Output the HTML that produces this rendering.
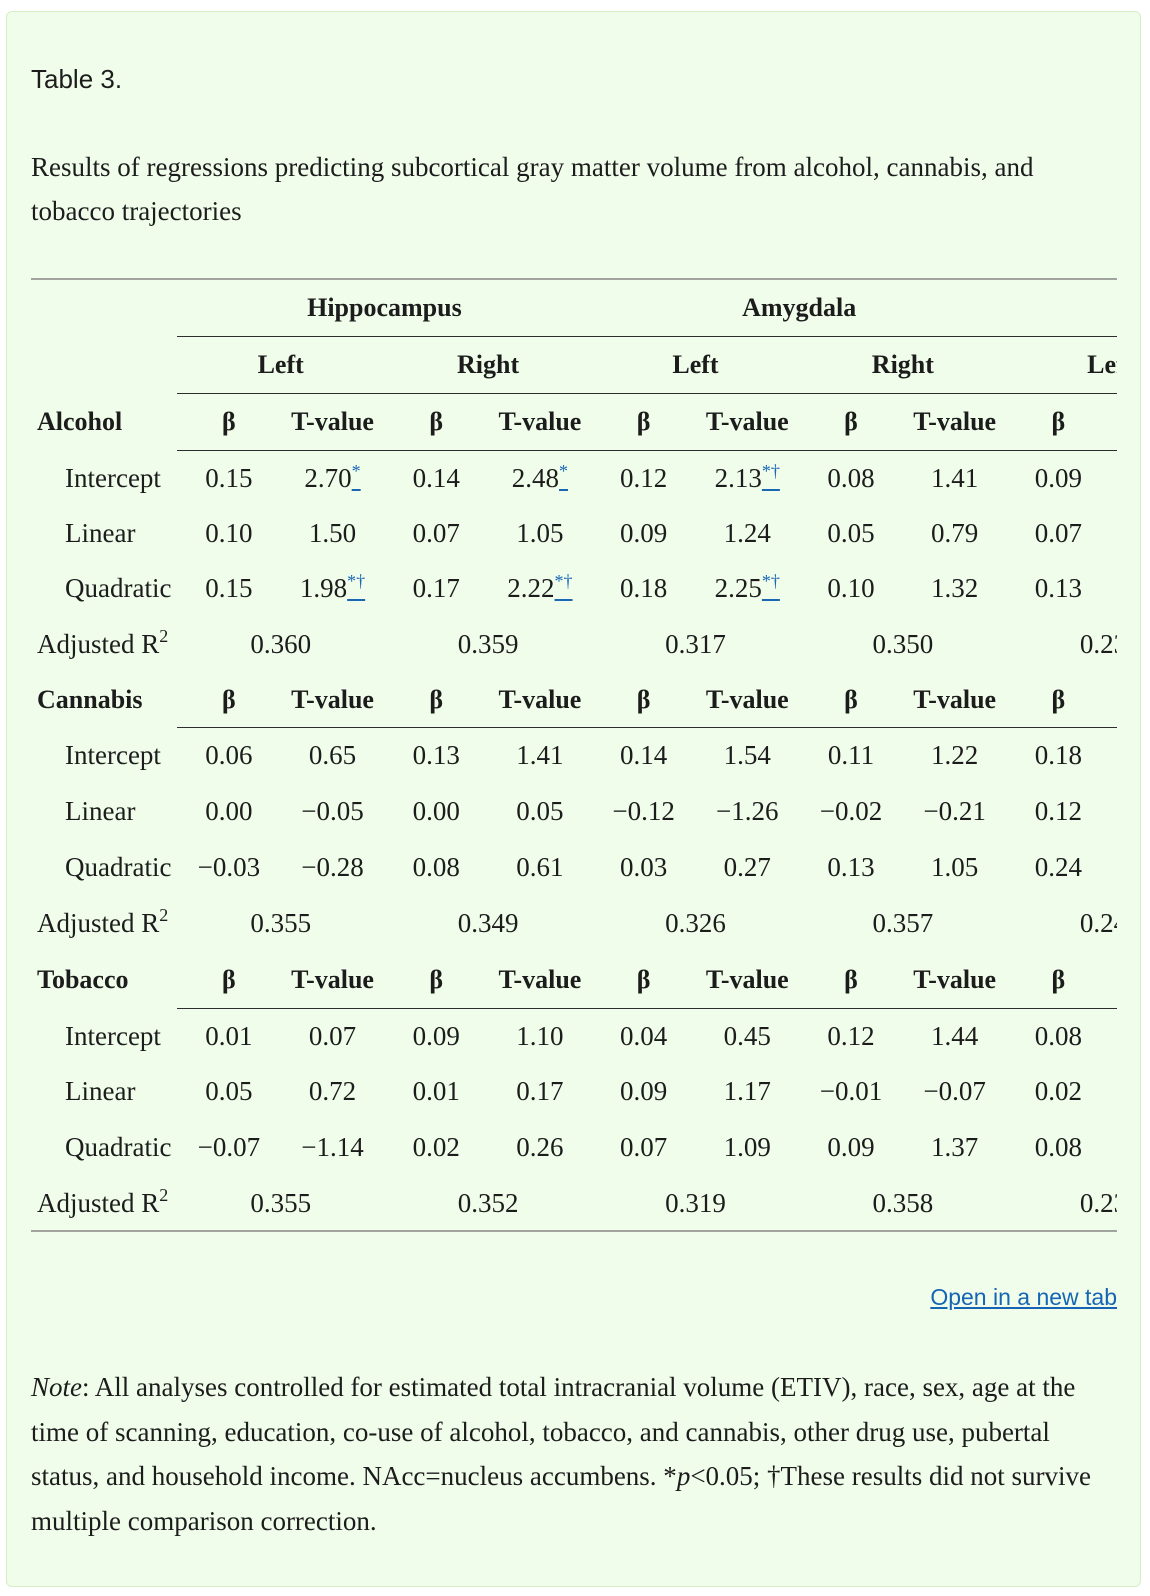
<!DOCTYPE html>
<html>
<head>
<meta charset="utf-8">
<style>
  html, body { margin:0; padding:0; }
  body { width:1150px; height:1596px; background:#ffffff; position:relative; overflow:hidden;
         font-family:"Liberation Serif", "DejaVu Serif", serif; color:#1c1c1c; }
  .card { position:absolute; left:6px; top:11px; width:1133px; height:1574px;
          background:#f1fdeb; border:1px solid #d5eec3; border-radius:6px; }
  .title { position:absolute; left:31px; top:64px; font-family:"Liberation Sans", sans-serif;
           font-size:26px; line-height:30px; white-space:nowrap; color:#1c1c1c; }
  .caption { position:absolute; left:31px; top:145px; font-size:27px; line-height:44px; white-space:nowrap; color:#1c1c1c; }
  .rule { position:absolute; left:177px; width:940px; height:1.5px; background:#2e2e2e; }
  .rule.outer { left:31px; width:1086px; height:2px; background:#a2a4a0; }
  .row { position:absolute; left:31px; width:1086px; display:flex; overflow:hidden; white-space:nowrap;
         font-size:27px; }
  .lab { flex:0 0 146px; padding-left:6px; box-sizing:border-box; text-align:left; }
  .ind { padding-left:34px; }
  .b { font-weight:bold; font-size:26px; }
  .c { flex:0 0 103.7px; text-align:center; }
  .c2 { flex:0 0 207.4px; text-align:center; }
  .c4 { flex:0 0 414.8px; text-align:center; }
  a.fn { color:#1a67b4; text-decoration:underline; }
  a.fn sup { font-size:18px; line-height:0; vertical-align:10px; }
  sup.r { font-size:18px; line-height:0; vertical-align:11px; }
  .link { position:absolute; right:33px; top:1284px; font-family:"Liberation Sans", sans-serif; font-size:23px;
          line-height:26px; color:#1565b4; text-decoration:underline; white-space:nowrap; }
  .note { position:absolute; left:31px; top:1365px; font-size:27px; line-height:44.5px; white-space:nowrap; color:#1c1c1c; }
</style>
</head>
<body>
<div class="card"></div>

<div class="title">Table 3.</div>

<div class="caption">Results of regressions predicting subcortical gray matter volume from alcohol, cannabis, and<br>tobacco trajectories</div>

<!-- rules -->
<div class="rule outer" style="top:278px"></div>
<div class="rule" style="top:335.5px"></div>
<div class="rule" style="top:392.5px"></div>
<div class="rule" style="top:449.5px"></div>
<div class="rule" style="top:726.5px"></div>
<div class="rule" style="top:1007.5px"></div>
<div class="rule outer" style="top:1230px"></div>

<!-- header row 1 -->
<div class="row b" style="top:279px;height:57px;line-height:57px">
  <div class="lab"></div>
  <div class="c4">Hippocampus</div>
  <div class="c4">Amygdala</div>
  <div class="c4">NAcc</div>
</div>
<!-- header row 2 -->
<div class="row b" style="top:336px;height:57px;line-height:57px">
  <div class="lab"></div>
  <div class="c2">Left</div><div class="c2">Right</div>
  <div class="c2">Left</div><div class="c2">Right</div>
  <div class="c2">Left</div>
</div>
<!-- header row 3 -->
<div class="row b" style="top:393px;height:57px;line-height:57px">
  <div class="lab">Alcohol</div>
  <div class="c">β</div><div class="c">T-value</div>
  <div class="c">β</div><div class="c">T-value</div>
  <div class="c">β</div><div class="c">T-value</div>
  <div class="c">β</div><div class="c">T-value</div>
  <div class="c">β</div><div class="c">T-value</div>
</div>

<!-- Alcohol -->
<div class="row" style="top:450px;height:56px;line-height:56px">
  <div class="lab ind">Intercept</div>
  <div class="c">0.15</div><div class="c">2.70<a class="fn"><sup>*</sup></a></div>
  <div class="c">0.14</div><div class="c">2.48<a class="fn"><sup>*</sup></a></div>
  <div class="c">0.12</div><div class="c">2.13<a class="fn"><sup>*†</sup></a></div>
  <div class="c">0.08</div><div class="c">1.41</div>
  <div class="c">0.09</div><div class="c">1.52</div>
</div>
<div class="row" style="top:506px;height:55px;line-height:55px">
  <div class="lab ind">Linear</div>
  <div class="c">0.10</div><div class="c">1.50</div>
  <div class="c">0.07</div><div class="c">1.05</div>
  <div class="c">0.09</div><div class="c">1.24</div>
  <div class="c">0.05</div><div class="c">0.79</div>
  <div class="c">0.07</div><div class="c">1.04</div>
</div>
<div class="row" style="top:561px;height:55px;line-height:55px">
  <div class="lab ind">Quadratic</div>
  <div class="c">0.15</div><div class="c">1.98<a class="fn"><sup>*†</sup></a></div>
  <div class="c">0.17</div><div class="c">2.22<a class="fn"><sup>*†</sup></a></div>
  <div class="c">0.18</div><div class="c">2.25<a class="fn"><sup>*†</sup></a></div>
  <div class="c">0.10</div><div class="c">1.32</div>
  <div class="c">0.13</div><div class="c">1.60</div>
</div>
<div class="row" style="top:616px;height:56px;line-height:56px">
  <div class="lab">Adjusted R<sup class="r">2</sup></div>
  <div class="c2">0.360</div><div class="c2">0.359</div>
  <div class="c2">0.317</div><div class="c2">0.350</div>
  <div class="c2">0.230</div>
</div>

<!-- Cannabis -->
<div class="row" style="top:672px;height:55px;line-height:55px">
  <div class="lab b">Cannabis</div>
  <div class="c b">β</div><div class="c b">T-value</div>
  <div class="c b">β</div><div class="c b">T-value</div>
  <div class="c b">β</div><div class="c b">T-value</div>
  <div class="c b">β</div><div class="c b">T-value</div>
  <div class="c b">β</div><div class="c b">T-value</div>
</div>
<div class="row" style="top:727px;height:56px;line-height:56px">
  <div class="lab ind">Intercept</div>
  <div class="c">0.06</div><div class="c">0.65</div>
  <div class="c">0.13</div><div class="c">1.41</div>
  <div class="c">0.14</div><div class="c">1.54</div>
  <div class="c">0.11</div><div class="c">1.22</div>
  <div class="c">0.18</div><div class="c">2.01</div>
</div>
<div class="row" style="top:783px;height:56px;line-height:56px">
  <div class="lab ind">Linear</div>
  <div class="c">0.00</div><div class="c">−0.05</div>
  <div class="c">0.00</div><div class="c">0.05</div>
  <div class="c">−0.12</div><div class="c">−1.26</div>
  <div class="c">−0.02</div><div class="c">−0.21</div>
  <div class="c">0.12</div><div class="c">1.30</div>
</div>
<div class="row" style="top:839px;height:56px;line-height:56px">
  <div class="lab ind">Quadratic</div>
  <div class="c">−0.03</div><div class="c">−0.28</div>
  <div class="c">0.08</div><div class="c">0.61</div>
  <div class="c">0.03</div><div class="c">0.27</div>
  <div class="c">0.13</div><div class="c">1.05</div>
  <div class="c">0.24</div><div class="c">1.90</div>
</div>
<div class="row" style="top:895px;height:57px;line-height:57px">
  <div class="lab">Adjusted R<sup class="r">2</sup></div>
  <div class="c2">0.355</div><div class="c2">0.349</div>
  <div class="c2">0.326</div><div class="c2">0.357</div>
  <div class="c2">0.245</div>
</div>

<!-- Tobacco -->
<div class="row" style="top:952px;height:56px;line-height:56px">
  <div class="lab b">Tobacco</div>
  <div class="c b">β</div><div class="c b">T-value</div>
  <div class="c b">β</div><div class="c b">T-value</div>
  <div class="c b">β</div><div class="c b">T-value</div>
  <div class="c b">β</div><div class="c b">T-value</div>
  <div class="c b">β</div><div class="c b">T-value</div>
</div>
<div class="row" style="top:1008px;height:56px;line-height:56px">
  <div class="lab ind">Intercept</div>
  <div class="c">0.01</div><div class="c">0.07</div>
  <div class="c">0.09</div><div class="c">1.10</div>
  <div class="c">0.04</div><div class="c">0.45</div>
  <div class="c">0.12</div><div class="c">1.44</div>
  <div class="c">0.08</div><div class="c">0.92</div>
</div>
<div class="row" style="top:1064px;height:55px;line-height:55px">
  <div class="lab ind">Linear</div>
  <div class="c">0.05</div><div class="c">0.72</div>
  <div class="c">0.01</div><div class="c">0.17</div>
  <div class="c">0.09</div><div class="c">1.17</div>
  <div class="c">−0.01</div><div class="c">−0.07</div>
  <div class="c">0.02</div><div class="c">0.25</div>
</div>
<div class="row" style="top:1119px;height:56px;line-height:56px">
  <div class="lab ind">Quadratic</div>
  <div class="c">−0.07</div><div class="c">−1.14</div>
  <div class="c">0.02</div><div class="c">0.26</div>
  <div class="c">0.07</div><div class="c">1.09</div>
  <div class="c">0.09</div><div class="c">1.37</div>
  <div class="c">0.08</div><div class="c">1.11</div>
</div>
<div class="row" style="top:1175px;height:56px;line-height:56px">
  <div class="lab">Adjusted R<sup class="r">2</sup></div>
  <div class="c2">0.355</div><div class="c2">0.352</div>
  <div class="c2">0.319</div><div class="c2">0.358</div>
  <div class="c2">0.231</div>
</div>

<div class="link">Open in a new tab</div>

<div class="note"><i>Note</i>: All analyses controlled for estimated total intracranial volume (ETIV), race, sex, age at the<br>time of scanning, education, co-use of alcohol, tobacco, and cannabis, other drug use, pubertal<br>status, and household income. NAcc=nucleus accumbens. *<i>p</i>&lt;0.05; †These results did not survive<br>multiple comparison correction.</div>

</body>
</html>
